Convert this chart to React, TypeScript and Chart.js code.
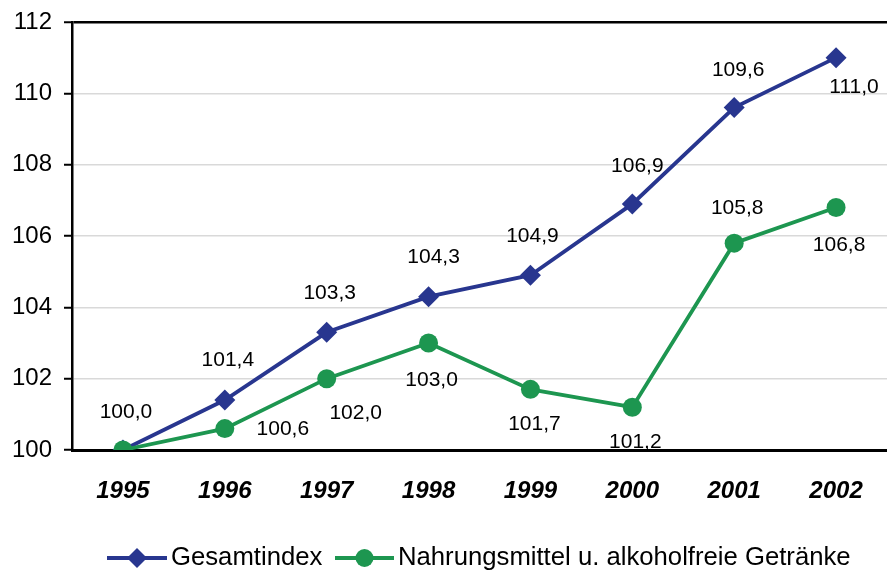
import React, { useEffect, useRef } from "react";
import { Chart, registerables } from "chart.js";

Chart.register(...registerables);

const years = ["1995", "1996", "1997", "1998", "1999", "2000", "2001", "2002"];
const gesamtindex = [100.0, 101.4, 103.3, 104.3, 104.9, 106.9, 109.6, 111.0];
const nahrungsmittel = [100.0, 100.6, 102.0, 103.0, 101.7, 101.2, 105.8, 106.8];
const yTicks = [100, 102, 104, 106, 108, 110, 112];
const seriesNames = ["Gesamtindex", "Nahrungsmittel u. alkoholfreie Getränke"];

const BLUE = "#28368f";
const GREEN = "#1d9650";
const FONT = "'Liberation Sans', Arial, sans-serif";

// label placement (pixel offsets from point), null = no label
const labelOffsets: (number[] | null)[][] = [
  [[3, -38], [3, -40], [3, -39], [5, -39], [2, -39], [5, -38], [4, -37], [18, 30]],
  [null, [58, 1], [29, 35], [3, 37], [4, 35], [3, 35], [3, -35], [3, 38]],
];

const fmt = (v: number) => v.toFixed(1).replace(".", ",");

const labelPlugin = {
  id: "pointLabels",
  afterDatasetsDraw(chart: any) {
    const ctx = chart.ctx;
    ctx.save();
    ctx.font = `21px ${FONT}`;
    ctx.fillStyle = "#000";
    ctx.textAlign = "center";
    ctx.textBaseline = "middle";
    chart.data.datasets.forEach((ds: any, di: number) => {
      const meta = chart.getDatasetMeta(di);
      meta.data.forEach((pt: any, i: number) => {
        const off = labelOffsets[di][i];
        if (!off) return;
        ctx.fillText(fmt(ds.data[i]), pt.x + off[0], pt.y + off[1]);
      });
    });
    ctx.restore();
  },
};

const legendPlugin = {
  id: "customLegend",
  afterDraw(chart: any) {
    const ctx = chart.ctx;
    const y = 558;
    const items = [
      { color: BLUE, style: "diamond", x0: 107, x1: 167, text: seriesNames[0], tx: 171 },
      { color: GREEN, style: "circle", x0: 335, x1: 394, text: seriesNames[1], tx: 398 },
    ];
    ctx.save();
    items.forEach((it) => {
      ctx.strokeStyle = it.color;
      ctx.lineWidth = 4;
      ctx.beginPath();
      ctx.moveTo(it.x0, y);
      ctx.lineTo(it.x1, y);
      ctx.stroke();
      const cx = (it.x0 + it.x1) / 2;
      ctx.fillStyle = it.color;
      ctx.beginPath();
      if (it.style === "diamond") {
        ctx.moveTo(cx, y - 10);
        ctx.lineTo(cx + 10, y);
        ctx.lineTo(cx, y + 10);
        ctx.lineTo(cx - 10, y);
        ctx.closePath();
      } else {
        ctx.arc(cx, y, 9, 0, Math.PI * 2);
      }
      ctx.fill();
      ctx.fillStyle = "#000";
      ctx.font = `25.7px ${FONT}`;
      ctx.textAlign = "left";
      ctx.textBaseline = "middle";
      ctx.fillText(it.text, it.tx, y);
    });
    ctx.restore();
  },
};

export default function App() {
  const ref = useRef<HTMLCanvasElement>(null);
  useEffect(() => {
    if (!ref.current) return;
    const chart = new Chart(ref.current, {
      type: "line",
      data: {
        labels: years,
        datasets: [
          {
            label: seriesNames[0],
            data: gesamtindex,
            borderColor: BLUE,
            backgroundColor: BLUE,
            borderWidth: 3.8,
            pointStyle: "rectRot",
            pointRadius: 10.5,
            pointBorderWidth: 0,
            order: 1,
          },
          {
            label: seriesNames[1],
            data: nahrungsmittel,
            borderColor: GREEN,
            backgroundColor: GREEN,
            borderWidth: 3.8,
            pointStyle: "circle",
            pointRadius: 9.5,
            pointBorderWidth: 0,
            order: 0,
          },
        ],
      },
      options: {
        animation: false,
        responsive: false,
        layout: { autoPadding: false, padding: { top: 22, right: 0, bottom: 0, left: 0 } },
        plugins: { legend: { display: false }, tooltip: { enabled: false } },
        scales: {
          x: {
            offset: true,
            grid: { drawOnChartArea: false, drawTicks: false },
            border: { display: true, color: "#000", width: 3 },
            ticks: {
              padding: 27,
              color: "#000",
              font: { family: FONT, size: 24, weight: "bold", style: "italic" },
            },
            afterFit(scale: any) {
              scale.height = 124;
              scale.paddingLeft = 0;
              scale.paddingRight = 0;
            },
          },
          y: {
            min: 100,
            max: 112,
            afterBuildTicks(scale: any) {
              scale.ticks = yTicks.map((v) => ({ value: v }));
            },
            grid: {
              color: (c: any) => (c.tick && c.tick.value === 112 ? "#000" : "#d9d9d9"),
              lineWidth: (c: any) => (c.tick && c.tick.value === 112 ? 2.5 : 1.5),
              tickColor: "#000",
              tickLength: 8,
              tickWidth: 2,
            },
            border: { display: true, color: "#000", width: 2.5 },
            ticks: {
              padding: 12,
              color: "#000",
              font: { family: FONT, size: 24 },
            },
            afterFit(scale: any) {
              scale.width = 72;
              scale.paddingTop = 0;
              scale.paddingBottom = 0;
            },
          },
        },
      },
      plugins: [labelPlugin, legendPlugin],
    } as any);
    return () => chart.destroy();
  }, []);
  return (
    <div style={{ position: "fixed", left: 0, top: 0, width: 887, height: 574, background: "#fff" }}>
      <canvas ref={ref} width={887} height={574} style={{ display: "block" }} />
    </div>
  );
}
